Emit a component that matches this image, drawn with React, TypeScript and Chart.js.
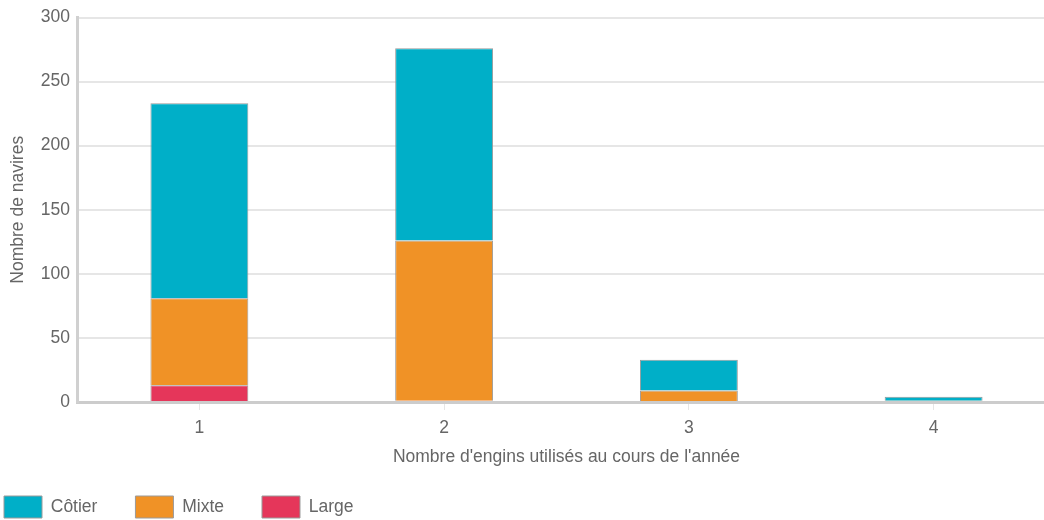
import React, { useEffect, useRef } from "react";
import { Chart, registerables } from "chart.js";

Chart.register(...registerables);

const categories = ["1", "2", "3", "4"];
const cotierValues = [152, 150, 24, 3];
const mixteValues = [68, 125, 9, 1];
const largeValues = [13, 1, 0, 0];
const yMin = 0;
const yMax = 300;
const yStep = 50;
const xTitle = "Nombre d'engins utilisés au cours de l'année";
const yTitle = "Nombre de navires";

const FONT = "'Liberation Sans', Arial, sans-serif";
const FS = 17.5;
const TEXT = "#666666";

const legendShift = {
  id: "legendShift",
  afterLayout(chart: any) {
    const l = chart.legend;
    if (l) {
      l.left = -34;
      l.top = 458;
    }
  },
};

export default function App() {
  const ref = useRef<HTMLCanvasElement | null>(null);
  useEffect(() => {
    document.body.style.margin = "0";
    const canvas = ref.current;
    if (!canvas) return;
    const chart = new Chart(canvas, {
      type: "bar",
      data: {
        labels: categories,
        datasets: [
          { label: "Large", data: largeValues, backgroundColor: "#E5365A", borderColor: "#9a9a9a", borderWidth: 1 },
          { label: "Mixte", data: mixteValues, backgroundColor: "#F09226", borderColor: "#9a9a9a", borderWidth: 1 },
          { label: "Côtier", data: cotierValues, backgroundColor: "#00AFC8", borderColor: "#9a9a9a", borderWidth: 1 },
        ],
      },
      options: {
        animation: false,
        responsive: false,
        maintainAspectRatio: false,
        layout: { padding: { top: 4, left: 0, right: 0, bottom: 0 } },
        datasets: { bar: { categoryPercentage: 1, barPercentage: 0.4 } },
        plugins: {
          tooltip: { enabled: false },
          legend: {
            position: "bottom",
            align: "start",
            maxHeight: 50,
            labels: {
              boxWidth: 38,
              boxHeight: 22,
              padding: 38,
              color: TEXT,
              font: { family: FONT, size: FS },
              sort: (a: any, b: any) => b.datasetIndex - a.datasetIndex,
            },
          },
        },
        scales: {
          x: {
            stacked: true,
            offset: true,
            grid: {
              display: true,
              drawOnChartArea: false,
              drawTicks: true,
              tickLength: 8,
              offset: false,
              color: "#e6e6e6",
            },
            border: { display: true, color: "#cccccc", width: 3 },
            ticks: { color: TEXT, font: { family: FONT, size: FS }, padding: 8 },
            title: {
              display: true,
              text: xTitle,
              color: TEXT,
              font: { family: FONT, size: FS },
              padding: { top: 0, bottom: 2 },
            },
            afterFit: (s: any) => {
              s.height = 68;
            },
          },
          y: {
            stacked: true,
            min: yMin,
            max: yMax,
            ticks: { stepSize: yStep, color: TEXT, font: { family: FONT, size: FS }, padding: 7 },
            grid: { color: "#e6e6e6", lineWidth: 2, drawTicks: false },
            border: { display: true, color: "#d0d0d0", width: 3 },
            title: {
              display: true,
              text: yTitle,
              color: TEXT,
              font: { family: FONT, size: FS },
              padding: { top: 8, bottom: 0 },
            },
            afterFit: (s: any) => {
              s.width = 77;
            },
          },
        },
      },
      plugins: [legendShift],
    });
    return () => chart.destroy();
  }, []);
  return (
    <div style={{ width: 1044, height: 520, overflow: "hidden", position: "relative" }}>
      <canvas ref={ref} width={1056} height={520} style={{ width: 1056, height: 520, display: "block" }} />
    </div>
  );
}
